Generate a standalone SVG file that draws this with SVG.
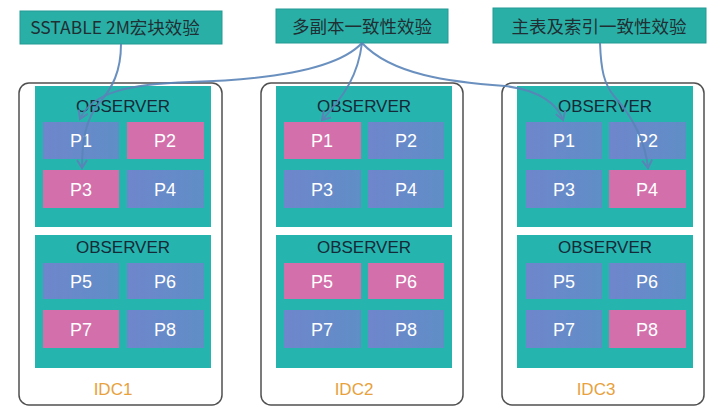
<svg xmlns="http://www.w3.org/2000/svg" width="720" height="415" viewBox="0 0 720 415">
<defs>
<linearGradient id="blueg" x1="0" y1="0" x2="1" y2="0">
<stop offset="0" stop-color="#6f86cc"/>
<stop offset="1" stop-color="#5f8ec6"/>
</linearGradient>
<marker id="arr" viewBox="0 0 12 12" refX="10" refY="6" markerWidth="12" markerHeight="12" markerUnits="userSpaceOnUse" orient="auto">
<path d="M2,1 L10,6 L2,11" fill="none" stroke="#5a84b8" stroke-width="2"/>
</marker>
</defs>
<style>
.lbl{fill:#2aafa7;stroke:#229a93;stroke-width:1}
.lt{font-family:"Noto Sans CJK SC","Noto Sans",sans-serif;font-size:17.5px;fill:#1f2f33;text-anchor:middle}
.idc{fill:#ffffff;stroke:#505050;stroke-width:1.5}
.pan{fill:#26b5ae}
.blue{fill:url(#blueg)}
.pink{fill:#d370ab}
.pt{font-family:"Liberation Sans",Arial,sans-serif;font-size:18px;fill:#ffffff;text-anchor:middle}
.ob{font-family:"Liberation Sans",Arial,sans-serif;font-size:17px;fill:#142a38;text-anchor:middle}
.it{font-family:"Liberation Sans",Arial,sans-serif;font-size:17px;fill:#e8a13c;text-anchor:middle}
.con{fill:none;stroke:#5a84b8;stroke-width:2;stroke-opacity:0.9;marker-end:url(#arr)}
</style>
<rect width="720" height="415" fill="#ffffff"/>

<g id="label1"><rect class="lbl" x="20" y="11" width="202" height="33"/><text class="lt" x="115" y="34">SSTABLE 2M宏块效验</text></g>
<g id="label2"><rect class="lbl" x="276" y="9" width="172" height="34"/><text class="lt" x="362" y="33">多副本一致性效验</text></g>
<g id="label3"><rect class="lbl" x="493" y="8" width="213" height="35"/><text class="lt" x="599" y="33">主表及索引一致性效验</text></g>

<g id="idc1">
<rect class="idc" x="19" y="83" width="203" height="322" rx="10"/>
<rect class="pan" x="35" y="86" width="176" height="141"/>
<text class="ob" x="123" y="112">OBSERVER</text>
<rect class="blue" x="43" y="122" width="76" height="37"/><text class="pt" x="81" y="147">P1</text>
<rect class="pink" x="127" y="122" width="77" height="37"/><text class="pt" x="165" y="147">P2</text>
<rect class="pink" x="43" y="170" width="76" height="38"/><text class="pt" x="81" y="196">P3</text>
<rect class="blue" x="127" y="170" width="77" height="38"/><text class="pt" x="165" y="196">P4</text>
<rect class="pan" x="35" y="235" width="176" height="133"/>
<text class="ob" x="123" y="253">OBSERVER</text>
<rect class="blue" x="43" y="263" width="76" height="36"/><text class="pt" x="81" y="288">P5</text>
<rect class="blue" x="127" y="263" width="77" height="36"/><text class="pt" x="165" y="288">P6</text>
<rect class="pink" x="43" y="310" width="76" height="38"/><text class="pt" x="81" y="336">P7</text>
<rect class="blue" x="127" y="310" width="77" height="38"/><text class="pt" x="165" y="336">P8</text>
<text class="it" x="113" y="395">IDC1</text>
</g>

<g id="idc2">
<rect class="idc" x="261" y="83" width="202" height="322" rx="10"/>
<rect class="pan" x="276" y="86" width="176" height="141"/>
<text class="ob" x="364" y="112">OBSERVER</text>
<rect class="pink" x="284" y="122" width="77" height="37"/><text class="pt" x="322" y="147">P1</text>
<rect class="blue" x="368" y="122" width="76" height="37"/><text class="pt" x="406" y="147">P2</text>
<rect class="blue" x="284" y="170" width="77" height="38"/><text class="pt" x="322" y="196">P3</text>
<rect class="blue" x="368" y="170" width="76" height="38"/><text class="pt" x="406" y="196">P4</text>
<rect class="pan" x="276" y="235" width="176" height="133"/>
<text class="ob" x="364" y="253">OBSERVER</text>
<rect class="pink" x="284" y="263" width="77" height="36"/><text class="pt" x="322" y="288">P5</text>
<rect class="pink" x="368" y="263" width="76" height="36"/><text class="pt" x="406" y="288">P6</text>
<rect class="blue" x="284" y="310" width="77" height="38"/><text class="pt" x="322" y="336">P7</text>
<rect class="blue" x="368" y="310" width="76" height="38"/><text class="pt" x="406" y="336">P8</text>
<text class="it" x="354" y="395">IDC2</text>
</g>

<g id="idc3">
<rect class="idc" x="502" y="83" width="202" height="322" rx="10"/>
<rect class="pan" x="517" y="86" width="176" height="141"/>
<text class="ob" x="605" y="112">OBSERVER</text>
<rect class="blue" x="526" y="122" width="76" height="37"/><text class="pt" x="564" y="147">P1</text>
<rect class="blue" x="609" y="122" width="77" height="37"/><text class="pt" x="647" y="147">P2</text>
<rect class="blue" x="526" y="170" width="76" height="38"/><text class="pt" x="564" y="196">P3</text>
<rect class="pink" x="609" y="170" width="77" height="38"/><text class="pt" x="647" y="196">P4</text>
<rect class="pan" x="517" y="235" width="176" height="133"/>
<text class="ob" x="605" y="253">OBSERVER</text>
<rect class="blue" x="526" y="263" width="76" height="36"/><text class="pt" x="564" y="288">P5</text>
<rect class="blue" x="609" y="263" width="77" height="36"/><text class="pt" x="647" y="288">P6</text>
<rect class="blue" x="526" y="310" width="76" height="38"/><text class="pt" x="564" y="336">P7</text>
<rect class="pink" x="609" y="310" width="77" height="38"/><text class="pt" x="647" y="336">P8</text>
<text class="it" x="596" y="395">IDC3</text>
</g>

<g id="connectors">
<path class="con" d="M121,44 C121,72 112,88 100,102 C86,118 82,140 82,168"/>
<path class="con" d="M362,43 C335,72 260,80 190,82 C130,84 92,92 80,119"/>
<path class="con" d="M362,43 C358,75 345,95 322,120"/>
<path class="con" d="M362,43 C392,75 450,82 505,86 C540,90 558,105 563,120"/>
<path class="con" d="M600,43 C601,70 604,84 614,96 C632,116 645,140 648,168"/>
</g>
</svg>
